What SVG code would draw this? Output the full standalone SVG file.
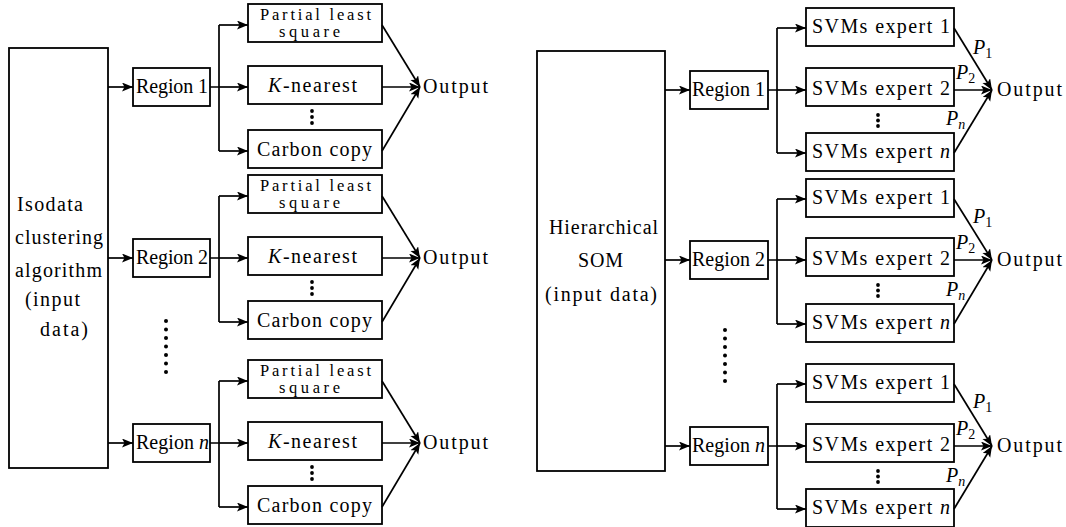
<svg xmlns="http://www.w3.org/2000/svg" width="1066" height="527" viewBox="0 0 1066 527">
<style>
.box{fill:#fff;stroke:#000;stroke-width:1.8}
.t{font-family:'Liberation Serif','DejaVu Serif',serif;font-size:20px;fill:#000}
.p{font-size:16.5px}
.s{font-size:14px}
.i{font-style:italic}
.ln{stroke:#000;stroke-width:1.7;fill:none}
.ar{stroke:#000;stroke-width:1.7;fill:none;marker-end:url(#ah)}
.dot{fill:#000}
</style>
<defs>
<marker id="ah" markerUnits="userSpaceOnUse" markerWidth="13" markerHeight="10" refX="11" refY="4.5" orient="auto">
<path d="M0,0 L11,4.5 L0,9 L2.5,4.5 z" fill="#000"/>
</marker>
</defs>
<rect width="1066" height="527" fill="#fff"/>

<!-- LEFT PANEL -->
<g id="isodata">
<rect class="box" x="9" y="48" width="99" height="420"/>
<text class="t" x="17" y="211" textLength="66">Isodata</text>
<text class="t" x="15" y="244" textLength="88">clustering</text>
<text class="t" x="15" y="277" textLength="87">algorithm</text>
<text class="t" x="25" y="306" textLength="55">(input</text>
<text class="t" x="40" y="336" textLength="48">data)</text>
</g>

<g id="L-region1"><rect class="box" x="133" y="68" width="77" height="38"/><text class="t" x="136" y="93" textLength="72">Region 1</text></g>
<g id="L-region2"><rect class="box" x="133" y="239" width="77" height="38"/><text class="t" x="136" y="264" textLength="72">Region 2</text></g>
<g id="L-regionn"><rect class="box" x="133" y="424" width="77" height="38"/><text class="t" x="136" y="449" textLength="73">Region <tspan class="i">n</tspan></text></g>

<g id="L-pls1"><rect class="box" x="248" y="4" width="134" height="38"/><text class="t p" x="260" y="20" textLength="111">Partial least</text><text class="t p" x="279" y="37" textLength="61">square</text></g>
<g id="L-knn1"><rect class="box" x="248" y="66" width="134" height="38"/><text class="t" x="268" y="92" textLength="89"><tspan class="i">K</tspan>-nearest</text></g>
<g id="L-cc1"><rect class="box" x="248" y="130" width="134" height="38"/><text class="t" x="257" y="156" textLength="115">Carbon copy</text></g>
<g id="L-out1"><text class="t" x="423" y="93" textLength="65">Output</text></g>

<g id="L-pls2"><rect class="box" x="248" y="175" width="134" height="38"/><text class="t p" x="260" y="191" textLength="111">Partial least</text><text class="t p" x="279" y="208" textLength="61">square</text></g>
<g id="L-knn2"><rect class="box" x="248" y="237" width="134" height="38"/><text class="t" x="268" y="263" textLength="89"><tspan class="i">K</tspan>-nearest</text></g>
<g id="L-cc2"><rect class="box" x="248" y="301" width="134" height="38"/><text class="t" x="257" y="327" textLength="115">Carbon copy</text></g>
<g id="L-out2"><text class="t" x="423" y="264" textLength="65">Output</text></g>

<g id="L-pls3"><rect class="box" x="248" y="360" width="134" height="38"/><text class="t p" x="260" y="376" textLength="111">Partial least</text><text class="t p" x="279" y="393" textLength="61">square</text></g>
<g id="L-knn3"><rect class="box" x="248" y="422" width="134" height="38"/><text class="t" x="268" y="448" textLength="89"><tspan class="i">K</tspan>-nearest</text></g>
<g id="L-cc3"><rect class="box" x="248" y="486" width="134" height="38"/><text class="t" x="257" y="512" textLength="115">Carbon copy</text></g>
<g id="L-out3"><text class="t" x="423" y="449" textLength="65">Output</text></g>

<!-- RIGHT PANEL -->
<g id="hsom">
<rect class="box" x="537" y="51" width="128" height="420"/>
<text class="t" x="549" y="234" textLength="109">Hierarchical</text>
<text class="t" x="578" y="267" textLength="45">SOM</text>
<text class="t" x="545" y="301" textLength="112">(input data)</text>
</g>

<g id="R-region1"><rect class="box" x="690" y="71" width="78" height="38"/><text class="t" x="692" y="96" textLength="73">Region 1</text></g>
<g id="R-region2"><rect class="box" x="690" y="241" width="78" height="38"/><text class="t" x="692" y="266" textLength="73">Region 2</text></g>
<g id="R-regionn"><rect class="box" x="690" y="427" width="78" height="38"/><text class="t" x="692" y="452" textLength="73">Region <tspan class="i">n</tspan></text></g>

<g id="R-svm11"><rect class="box" x="806" y="8" width="148" height="38"/><text class="t" x="812" y="33" textLength="138">SVMs expert 1</text></g>
<g id="R-svm12"><rect class="box" x="806" y="68" width="148" height="38"/><text class="t" x="812" y="95" textLength="138">SVMs expert 2</text></g>
<g id="R-svm1n"><rect class="box" x="806" y="133" width="148" height="38"/><text class="t" x="812" y="158" textLength="138">SVMs expert <tspan class="i">n</tspan></text></g>
<g id="R-out1"><text class="t" x="997" y="96" textLength="65">Output</text></g>

<g id="R-svm21"><rect class="box" x="806" y="179" width="148" height="38"/><text class="t" x="812" y="204" textLength="138">SVMs expert 1</text></g>
<g id="R-svm22"><rect class="box" x="806" y="238" width="148" height="38"/><text class="t" x="812" y="265" textLength="138">SVMs expert 2</text></g>
<g id="R-svm2n"><rect class="box" x="806" y="304" width="148" height="38"/><text class="t" x="812" y="329" textLength="138">SVMs expert <tspan class="i">n</tspan></text></g>
<g id="R-out2"><text class="t" x="997" y="266" textLength="65">Output</text></g>

<g id="R-svm31"><rect class="box" x="806" y="364" width="148" height="38"/><text class="t" x="812" y="389" textLength="138">SVMs expert 1</text></g>
<g id="R-svm32"><rect class="box" x="806" y="424" width="148" height="38"/><text class="t" x="812" y="451" textLength="138">SVMs expert 2</text></g>
<g id="R-svm3n"><rect class="box" x="806" y="489" width="148" height="38"/><text class="t" x="812" y="514" textLength="138">SVMs expert <tspan class="i">n</tspan></text></g>
<g id="R-out3"><text class="t" x="997" y="452" textLength="65">Output</text></g>

<!-- CONNECTORS -->
<g id="connectors">
<line class="ar" x1="108" y1="87" x2="133" y2="87"/>
<line class="ar" x1="108" y1="258" x2="133" y2="258"/>
<line class="ar" x1="108" y1="443" x2="133" y2="443"/>

<path class="ln" d="M210,87 H219 M219,25 V151"/>
<line class="ar" x1="219" y1="25" x2="248" y2="25"/>
<line class="ar" x1="219" y1="87" x2="248" y2="87"/>
<line class="ar" x1="219" y1="151" x2="248" y2="151"/>
<line class="ar" x1="382" y1="25" x2="420" y2="87"/>
<line class="ar" x1="382" y1="87" x2="420" y2="87"/>
<line class="ar" x1="382" y1="151" x2="420" y2="87"/>

<path class="ln" d="M210,258 H219 M219,196 V322"/>
<line class="ar" x1="219" y1="196" x2="248" y2="196"/>
<line class="ar" x1="219" y1="258" x2="248" y2="258"/>
<line class="ar" x1="219" y1="322" x2="248" y2="322"/>
<line class="ar" x1="382" y1="196" x2="420" y2="258"/>
<line class="ar" x1="382" y1="258" x2="420" y2="258"/>
<line class="ar" x1="382" y1="322" x2="420" y2="258"/>

<path class="ln" d="M210,443 H219 M219,381 V507"/>
<line class="ar" x1="219" y1="381" x2="248" y2="381"/>
<line class="ar" x1="219" y1="443" x2="248" y2="443"/>
<line class="ar" x1="219" y1="507" x2="248" y2="507"/>
<line class="ar" x1="382" y1="381" x2="420" y2="443"/>
<line class="ar" x1="382" y1="443" x2="420" y2="443"/>
<line class="ar" x1="382" y1="507" x2="420" y2="443"/>

<line class="ar" x1="665" y1="90" x2="690" y2="90"/>
<line class="ar" x1="665" y1="260" x2="690" y2="260"/>
<line class="ar" x1="665" y1="446" x2="690" y2="446"/>

<path class="ln" d="M768,90 H777 M777,28 V153"/>
<line class="ar" x1="777" y1="28" x2="806" y2="28"/>
<line class="ar" x1="777" y1="90" x2="806" y2="90"/>
<line class="ar" x1="777" y1="153" x2="806" y2="153"/>
<line class="ar" x1="954" y1="28" x2="992" y2="90"/>
<line class="ar" x1="954" y1="90" x2="992" y2="90"/>
<line class="ar" x1="954" y1="153" x2="992" y2="90"/>

<path class="ln" d="M768,260 H777 M777,199 V324"/>
<line class="ar" x1="777" y1="199" x2="806" y2="199"/>
<line class="ar" x1="777" y1="260" x2="806" y2="260"/>
<line class="ar" x1="777" y1="324" x2="806" y2="324"/>
<line class="ar" x1="954" y1="199" x2="992" y2="260"/>
<line class="ar" x1="954" y1="260" x2="992" y2="260"/>
<line class="ar" x1="954" y1="324" x2="992" y2="260"/>

<path class="ln" d="M768,446 H777 M777,384 V509"/>
<line class="ar" x1="777" y1="384" x2="806" y2="384"/>
<line class="ar" x1="777" y1="446" x2="806" y2="446"/>
<line class="ar" x1="777" y1="509" x2="806" y2="509"/>
<line class="ar" x1="954" y1="384" x2="992" y2="446"/>
<line class="ar" x1="954" y1="446" x2="992" y2="446"/>
<line class="ar" x1="954" y1="509" x2="992" y2="446"/>
</g>

<g id="weights">
<text class="t" x="973" y="54"><tspan class="i">P</tspan><tspan class="s" dy="4">1</tspan></text>
<text class="t" x="956" y="79"><tspan class="i">P</tspan><tspan class="s" dy="4">2</tspan></text>
<text class="t" x="946" y="125"><tspan class="i">P</tspan><tspan class="s i" dy="4">n</tspan></text>
<text class="t" x="973" y="223"><tspan class="i">P</tspan><tspan class="s" dy="4">1</tspan></text>
<text class="t" x="956" y="249"><tspan class="i">P</tspan><tspan class="s" dy="4">2</tspan></text>
<text class="t" x="946" y="296"><tspan class="i">P</tspan><tspan class="s i" dy="4">n</tspan></text>
<text class="t" x="973" y="408"><tspan class="i">P</tspan><tspan class="s" dy="4">1</tspan></text>
<text class="t" x="956" y="435"><tspan class="i">P</tspan><tspan class="s" dy="4">2</tspan></text>
<text class="t" x="946" y="482"><tspan class="i">P</tspan><tspan class="s i" dy="4">n</tspan></text>
</g>

<g id="ellipses">
<circle class="dot" cx="312" cy="111" r="1.9"/><circle class="dot" cx="312" cy="117" r="1.9"/><circle class="dot" cx="312" cy="123" r="1.9"/>
<circle class="dot" cx="312" cy="282" r="1.9"/><circle class="dot" cx="312" cy="288" r="1.9"/><circle class="dot" cx="312" cy="294" r="1.9"/>
<circle class="dot" cx="312" cy="467" r="1.9"/><circle class="dot" cx="312" cy="473" r="1.9"/><circle class="dot" cx="312" cy="479" r="1.9"/>
<circle class="dot" cx="878" cy="115" r="1.9"/><circle class="dot" cx="878" cy="120.5" r="1.9"/><circle class="dot" cx="878" cy="126" r="1.9"/>
<circle class="dot" cx="878" cy="285" r="1.9"/><circle class="dot" cx="878" cy="290.5" r="1.9"/><circle class="dot" cx="878" cy="296" r="1.9"/>
<circle class="dot" cx="878" cy="471" r="1.9"/><circle class="dot" cx="878" cy="476.5" r="1.9"/><circle class="dot" cx="878" cy="482" r="1.9"/>
<circle class="dot" cx="166" cy="321" r="2"/><circle class="dot" cx="166" cy="329.5" r="2"/><circle class="dot" cx="166" cy="338" r="2"/><circle class="dot" cx="166" cy="346.5" r="2"/><circle class="dot" cx="166" cy="355" r="2"/><circle class="dot" cx="166" cy="363.5" r="2"/><circle class="dot" cx="166" cy="372" r="2"/>
<circle class="dot" cx="725" cy="330" r="2"/><circle class="dot" cx="725" cy="338.5" r="2"/><circle class="dot" cx="725" cy="347" r="2"/><circle class="dot" cx="725" cy="355.5" r="2"/><circle class="dot" cx="725" cy="364" r="2"/><circle class="dot" cx="725" cy="372.5" r="2"/><circle class="dot" cx="725" cy="381" r="2"/>
</g>
</svg>
